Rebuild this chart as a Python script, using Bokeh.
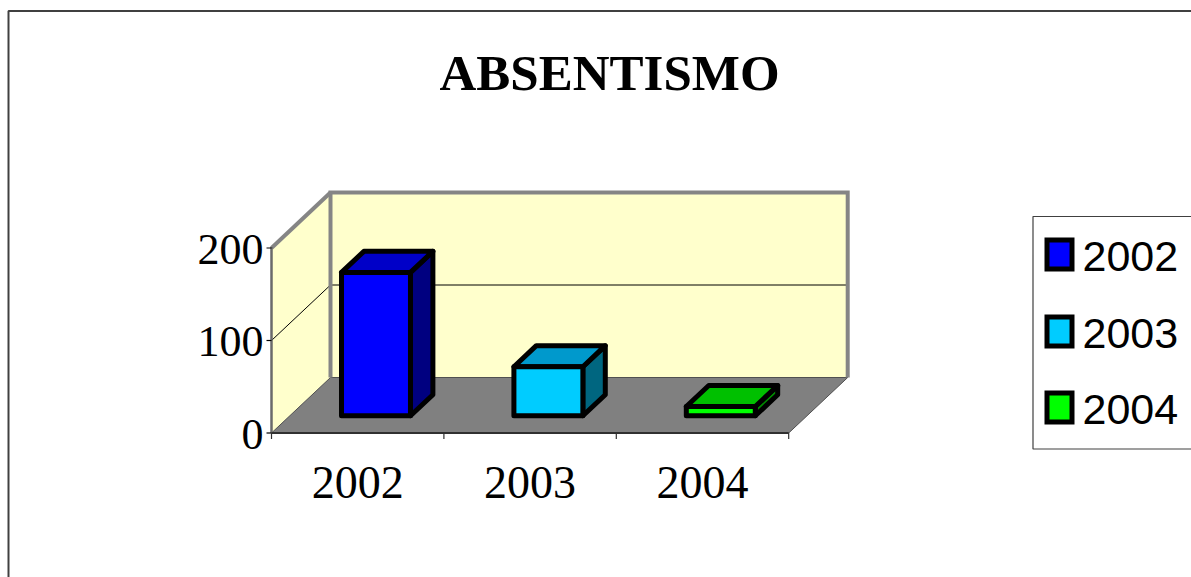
from bokeh.plotting import figure
from bokeh.models import Range1d, ColumnDataSource
from bokeh.embed import file_html
from bokeh.resources import INLINE
from bokeh.core.properties import value

# ---- data ----
title_text = "ABSENTISMO"
categories = ["2002", "2003", "2004"]
values = [155, 53, 10]
y_ticks = [0, 100, 200]
y_max = 200

# ---- styles ----
front_colors = ["#0000FF", "#00CCFF", "#00FF00"]
top_colors = ["#0000C8", "#0099CC", "#00C000"]
side_colors = ["#000080", "#006680", "#008A00"]
wall_color = "#FFFFCC"
floor_color = "#808080"
wall_edge = "#858585"

# ---- layout (pixel calibration of the pseudo-3D frame) ----
W, H = 1191, 577
OX, OY = 271.0, 432.5       # px of category 0 / value 0 (front plane)
CAT_PX, VAL_PX = 172.4, 0.925
DX, DY = 59.0 / CAT_PX, 55.5 / VAL_PX   # full depth offset in data units
BAR_W = 0.40
D0, D1 = 0.31, 0.69


def sx(px):
    return (px - OX) / CAT_PX


def sy(py):
    return (OY - py) / VAL_PX


x_range = Range1d(sx(0), sx(W))
y_range = Range1d(sy(H), sy(0))

p = figure(width=W, height=H, x_range=x_range, y_range=y_range,
           output_backend="svg", toolbar_location=None,
           x_axis_type=None, y_axis_type=None, min_border=0)
p.grid.visible = False
p.outline_line_color = None
p.background_fill_color = "white"
p.border_fill_color = "white"

n = len(categories)

# outer chart-area frame (clipped on right/bottom like the reference)
p.line([sx(8), sx(8), sx(1300)], [sy(700), sy(10.5), sy(10.5)],
       line_color="#404040", line_width=2)

# walls and floor (fills)
p.patch([DX, n + DX, n + DX, DX], [DY, DY, y_max + DY, y_max + DY],
        fill_color=wall_color, line_color=None)
p.patch([0, DX, DX, 0], [0, DY, y_max + DY, y_max],
        fill_color=wall_color, line_color=None)
p.patch([0, n, n + DX, DX], [0, 0, DY, DY],
        fill_color=floor_color, line_color="#505050", line_width=1)

# gridlines
for t in y_ticks:
    if 0 < t < y_max:
        p.line([0, DX, n + DX], [t, t + DY, t + DY], line_color="black", line_width=1)

# wall borders
p.line([DX, DX, n + DX, n + DX], [DY, y_max + DY, y_max + DY, DY],
       line_color=wall_edge, line_width=4, line_join="miter")
p.line([DX, 0], [y_max + DY, y_max], line_color=wall_edge, line_width=4)
p.line([0, 0], [0, y_max + 1], line_color="#6a6a6a", line_width=2.5)

# value axis ticks
tick_len = 5 / CAT_PX
for t in y_ticks:
    p.line([-tick_len, 0], [t, t], line_color="black", line_width=1.2)

# category axis
p.line([0, n], [0, 0], line_color="#303030", line_width=2)
tick_h = 6 / VAL_PX
for i in range(n + 1):
    p.line([i, i], [0, -tick_h], line_color="#303030", line_width=1.2)

# bars (pseudo-3D boxes)
fx, fy, tx, ty, kx, ky = [], [], [], [], [], []
for i, v in enumerate(values):
    x0 = i + 0.5 - BAR_W / 2
    x1 = i + 0.5 + BAR_W / 2
    a0x, a0y = D0 * DX, D0 * DY
    a1x, a1y = D1 * DX, D1 * DY
    fx.append([x0 + a0x, x1 + a0x, x1 + a0x, x0 + a0x])
    fy.append([a0y, a0y, v + a0y, v + a0y])
    tx.append([x0 + a0x, x1 + a0x, x1 + a1x, x0 + a1x])
    ty.append([v + a0y, v + a0y, v + a1y, v + a1y])
    kx.append([x1 + a0x, x1 + a1x, x1 + a1x, x1 + a0x])
    ky.append([a0y, a1y, v + a1y, v + a0y])

for xs, ys, cols in ((kx, ky, side_colors), (tx, ty, top_colors), (fx, fy, front_colors)):
    src = ColumnDataSource(dict(xs=xs, ys=ys, c=cols))
    p.patches("xs", "ys", source=src, fill_color="c", line_color="black",
              line_width=5, line_join="round")

# value labels
p.text(x=[sx(263)] * len(y_ticks), y=[t - 1 / VAL_PX for t in y_ticks],
       text=[str(t) for t in y_ticks], text_align="right", text_baseline="middle",
       text_font=value("Liberation Serif"), text_font_size="44px", text_color="black")

# category labels
p.text(x=[i + 0.5 for i in range(n)], y=[sy(482)] * n, text=categories,
       text_align="center", text_baseline="middle",
       text_font=value("Liberation Serif"), text_font_size="46px", text_color="black")

# title
p.text(x=[sx(609)], y=[sy(72.5)], text=[title_text], text_align="center",
       text_baseline="middle", text_font=value("Liberation Serif"),
       text_font_style="bold", text_font_size="51px", text_color="black")

# legend
p.patch([sx(1032.5), sx(1300), sx(1300), sx(1032.5)],
        [sy(216), sy(216), sy(448.5), sy(448.5)],
        fill_color="white", line_color="#404040", line_width=1.2)
leg_cy = [254, 331, 407]
sq_w, sq_h = 25, 29
lx, ly = [], []
for cy in leg_cy:
    lx.append([sx(1059 - sq_w / 2), sx(1059 + sq_w / 2), sx(1059 + sq_w / 2), sx(1059 - sq_w / 2)])
    ly.append([sy(cy + sq_h / 2), sy(cy + sq_h / 2), sy(cy - sq_h / 2), sy(cy - sq_h / 2)])
p.patches("xs", "ys", source=ColumnDataSource(dict(xs=lx, ys=ly, c=front_colors)),
          fill_color="c", line_color="black", line_width=5, line_join="miter")
p.text(x=[sx(1082)] * n, y=[sy(cy + 2) for cy in leg_cy], text=categories,
       text_align="left", text_baseline="middle",
       text_font=value("Liberation Sans"), text_font_size="43px", text_color="black")

open("out.html", "w").write(file_html(p, INLINE))
